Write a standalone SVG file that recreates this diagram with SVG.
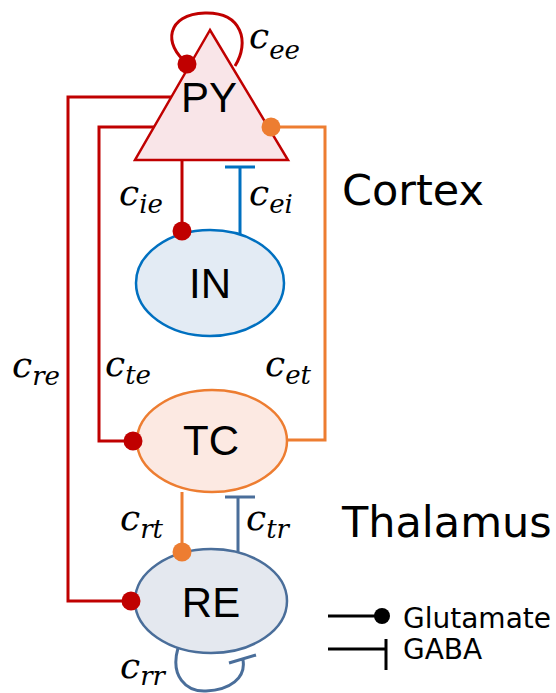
<svg xmlns="http://www.w3.org/2000/svg" width="556" height="693" viewBox="0 0 556 693">
<style>
.ln{fill:none;stroke-width:3;stroke-linecap:butt;stroke-linejoin:miter}
.red{stroke:#c00000}
.org{stroke:#ed7d31}
.blu{stroke:#0070c0}
.stl{stroke:#4a6e9a}
.blk{stroke:#000}
.node{font-family:"Liberation Sans",Arial,sans-serif;font-size:42px;fill:#000;text-anchor:middle}
.c{font-family:"DejaVu Serif",serif;font-style:italic;font-size:36px;fill:#000}
.sub{font-size:26px}
.big{font-family:"DejaVu Sans",sans-serif;font-size:43px;fill:#000}
.leg{font-family:"DejaVu Sans",sans-serif;font-size:28px;fill:#000}
</style>
<rect width="556" height="693" fill="#fff"/>
<g id="connectors">
  <path class="ln red" d="M187,63 C163,45 166,14 205,13 C242,12 250,42 235,66"/>
  <path class="ln red" d="M171,97 H68 V601 H131"/>
  <path class="ln red" d="M154,127 H99 V441 H133"/>
  <path class="ln org" d="M270,127 H325 V440 H287"/>
  <path class="ln red" d="M182,160 V231"/>
  <path class="ln blu" d="M240,234 V167 M225,167 H255"/>
  <path class="ln org" d="M182,492 V552"/>
  <path class="ln stl" d="M238,552 V497 M225,497 H255"/>
  <path class="ln stl" d="M178,648 C170,676 186,692 206,691 C230,690 246,678 243,660 M229,663 L256,655"/>
</g>
<g id="PY">
  <polygon points="210,30 135,160 288,160" fill="#f9e5e8" stroke="#c00000" stroke-width="2.5"/>
  <text class="node" x="209" y="112">PY</text>
</g>
<g id="IN">
  <ellipse cx="210" cy="283" rx="74" ry="53" fill="#e3ebf4" stroke="#0070c0" stroke-width="2.5"/>
  <text class="node" x="210" y="298">IN</text>
</g>
<g id="TC">
  <ellipse cx="212" cy="441" rx="75" ry="51" fill="#fce9e2" stroke="#ed7d31" stroke-width="2.5"/>
  <text class="node" x="211" y="455">TC</text>
</g>
<g id="RE">
  <ellipse cx="211" cy="601" rx="76" ry="52" fill="#e4e8ef" stroke="#4a6e9a" stroke-width="2.5"/>
  <text class="node" x="211" y="617">RE</text>
</g>
<g id="dots">
  <circle cx="187" cy="64" r="9.5" fill="#c00000"/>
  <circle cx="271" cy="127" r="9.5" fill="#ed7d31"/>
  <circle cx="182" cy="231" r="9.5" fill="#c00000"/>
  <circle cx="133" cy="441" r="9.5" fill="#c00000"/>
  <circle cx="182" cy="552" r="9.5" fill="#ed7d31"/>
  <circle cx="131" cy="601" r="9.5" fill="#c00000"/>
</g>
<g id="labels">
  <text class="c" x="249" y="48">c<tspan class="sub" dy="11">ee</tspan></text>
  <text class="c" x="119" y="205">c<tspan class="sub" dy="8">ie</tspan></text>
  <text class="c" x="249" y="205">c<tspan class="sub" dy="8">ei</tspan></text>
  <text class="c" x="12" y="377">c<tspan class="sub" dy="8">re</tspan></text>
  <text class="c" x="105" y="376">c<tspan class="sub" dy="8">te</tspan></text>
  <text class="c" x="265" y="376">c<tspan class="sub" dy="8">et</tspan></text>
  <text class="c" x="120" y="530">c<tspan class="sub" dy="8">rt</tspan></text>
  <text class="c" x="246" y="530">c<tspan class="sub" dy="8">tr</tspan></text>
  <text class="c" x="120" y="678">c<tspan class="sub" dy="7">rr</tspan></text>
  <text class="big" x="342" y="205">Cortex</text>
  <text class="big" x="342" y="537">Thalamus</text>
</g>
<g id="legend">
  <path class="ln blk" d="M328,616 H382"/>
  <circle cx="382" cy="616" r="8" fill="#000"/>
  <text class="leg" x="403" y="628">Glutamate</text>
  <path class="ln blk" d="M328,649 H386 M386,639 V670"/>
  <text class="leg" x="403" y="659">GABA</text>
</g>
</svg>
